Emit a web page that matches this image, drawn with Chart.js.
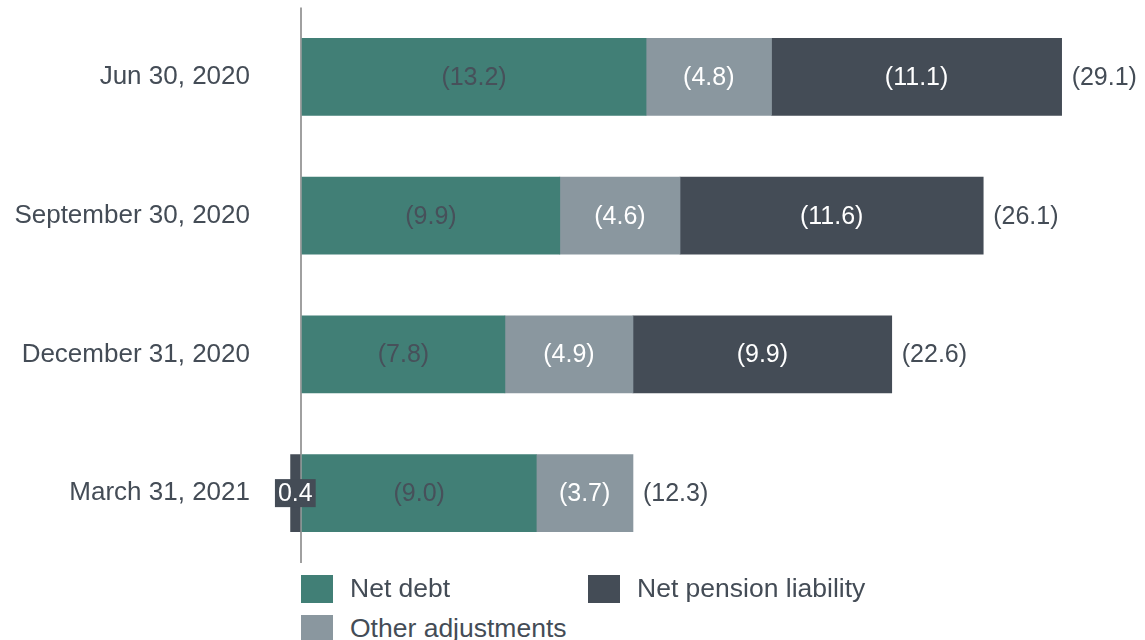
<!DOCTYPE html>
<html>
<head>
<meta charset="utf-8">
<script src="https://cdn.jsdelivr.net/npm/chart.js@4"></script>
<style>
  body { margin: 0; background: #fff; font-family: "Liberation Sans", Arial, sans-serif; }
  #wrap { position: relative; width: 1145px; height: 640px; overflow: hidden; }
  #box { position: absolute; left: 0; top: -33px; width: 1145px; height: 636px; }
  .leg { position: absolute; display: flex; align-items: center; font-size: 26.5px; color: #444c56; white-space: nowrap; }
  .leg span.sw { display: inline-block; width: 32px; height: 28px; margin-right: 17px; }
</style>
</head>
<body>
<div id="wrap">
  <div id="box"><canvas id="myChart"></canvas></div>
  <div class="leg" style="left:301px; top:573px;"><span class="sw" style="background:#417f76"></span>Net debt</div>
  <div class="leg" style="left:588px; top:573px;"><span class="sw" style="background:#444c56"></span>Net pension liability</div>
  <div class="leg" style="left:301px; top:613px;"><span class="sw" style="background:#8a979f"></span>Other adjustments</div>
</div>
<script>
const quarters = ["Jun 30, 2020", "September 30, 2020", "December 31, 2020", "March 31, 2021"];
// amounts in parentheses are drawn to the right; the 0.4 pension figure goes left
const netDebt = [13.2, 9.9, 7.8, 9.0];
const otherAdj = [4.8, 4.6, 4.9, 3.7];
const pension = [11.1, 11.6, 9.9, -0.4];
const totals = [29.1, 26.1, 22.6, 12.3];

Chart.defaults.font.family = '"Liberation Sans", Arial, sans-serif';

function fmt(v) {
    return v > 0 ? '(' + v.toFixed(1) + ')' : (-v).toFixed(1);
}

// value text in each segment plus the total after each bar
const barLabels = {
    id: 'barLabels',
    afterDatasetsDraw(chart) {
        const c = chart.ctx;
        c.save();
        c.font = '25px "Liberation Sans", Arial, sans-serif';
        c.textBaseline = 'middle';
        c.textAlign = 'center';
        const ends = [];
        chart.data.datasets.forEach((ds, i) => {
            const meta = chart.getDatasetMeta(i);
            meta.data.forEach((bar, j) => {
                const v = ds.data[j];
                const cx = (bar.x + bar.base) / 2;
                const txt = fmt(v);
                if (v < 0) {
                    const w = c.measureText(txt).width + 6;
                    c.fillStyle = '#444c56';
                    c.fillRect(cx - w / 2, bar.y - 14, w, 28);
                    c.fillStyle = '#ffffff';
                } else {
                    c.fillStyle = ds.labelColor;
                    ends[j] = Math.max(ends[j] || 0, bar.x);
                }
                c.fillText(txt, cx, bar.y + 1);
            });
        });
        c.textAlign = 'left';
        c.fillStyle = '#444c56';
        const meta0 = chart.getDatasetMeta(0);
        totals.forEach((t, j) => {
            c.fillText('(' + t.toFixed(1) + ')', ends[j] + 10, meta0.data[j].y + 1);
        });
        c.restore();
    }
};

const ctx = document.getElementById("myChart").getContext('2d');
const myChart = new Chart(ctx, {
    type: 'bar',
    data: {
        labels: quarters,
        datasets: [
            { label: 'Net debt', data: netDebt, backgroundColor: '#417f76', labelColor: '#47505a' },
            { label: 'Other adjustments', data: otherAdj, backgroundColor: '#8a979f', labelColor: '#ffffff' },
            { label: 'Net pension liability', data: pension, backgroundColor: '#444c56', labelColor: '#ffffff' }
        ]
    },
    options: {
        indexAxis: 'y',
        responsive: true,
        maintainAspectRatio: false,
        animation: false,
        barThickness: 77,
        layout: { padding: { top: 7, bottom: 7, left: 0, right: 33.7 } },
        plugins: {
            legend: { display: false },
            tooltip: { enabled: false }
        },
        scales: {
            x: {
                stacked: true,
                min: -1,
                max: 31,
                ticks: { display: false },
                border: { display: false },
                grid: {
                    drawTicks: false,
                    lineWidth: 2,
                    color: (c) => c.tick && c.tick.value === 0 ? '#a0a0a0' : 'rgba(0,0,0,0)'
                },
                afterFit: (s) => { s.height = 0; }
            },
            y: {
                stacked: true,
                border: { display: false },
                grid: { display: false, drawTicks: false },
                ticks: { padding: 24.9, color: '#444c56', font: { size: 26 } },
                afterFit: (s) => { s.width = 274.9; }
            }
        }
    },
    plugins: [barLabels]
});
</script>
</body>
</html>
